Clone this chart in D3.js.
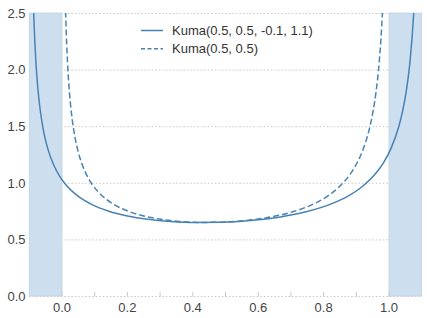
<!DOCTYPE html>
<html><head><meta charset="utf-8">
<script src="https://cdn.jsdelivr.net/npm/d3@7"></script>
<style>body{margin:0;background:#fff}svg{display:block}</style>
</head><body><svg id="c" width="427" height="318"></svg>
<script>
const xDashed=[0.0081,0.01,0.0121,0.0144,0.0169,0.0196,0.0256,0.0324,0.04,0.0484,0.0625,0.0784,0.09,0.1225,0.16,0.2025,0.25,0.3025,0.36,0.4225,0.49,0.5625,0.64,0.7056,0.7744,0.81,0.8464,0.8836,0.9025,0.9216,0.9409,0.950625,0.9604,0.970225,0.9801,0.984064];
const yDashed=[2.9119,2.6353,2.4091,2.2208,2.0617,1.9256,1.7048,1.5338,1.3975,1.2867,1.1547,1.0522,0.99602,0.88596,0.80687,0.74911,0.70711,0.6776,0.65881,0.65012,0.65205,0.66667,0.69877,0.74405,0.8201,0.87841,0.96075,1.08576,1.17688,1.30208,1.48801,1.62169,1.80384,2.07235,2.52525,2.81763];
const xSolid=[-0.09028,-0.088,-0.08548,-0.08272,-0.07972,-0.07648,-0.06928,-0.06112,-0.052,-0.04192,-0.025,-0.00592,0.008,0.047,0.092,0.143,0.2,0.263,0.332,0.407,0.488,0.575,0.668,0.74672,0.82928,0.872,0.91568,0.96032,0.983,1.00592,1.02908,1.04075,1.05248,1.06427,1.07612,1.08088];
const ySolid=[2.9119,2.6353,2.4091,2.2208,2.0617,1.9256,1.7048,1.5338,1.3975,1.2867,1.1547,1.0522,0.99602,0.88596,0.80687,0.74911,0.70711,0.6776,0.65881,0.65012,0.65205,0.66667,0.69877,0.74405,0.8201,0.87841,0.96075,1.08576,1.17688,1.30208,1.48801,1.62169,1.80384,2.07235,2.52525,2.81763];
const shadeRanges=[[-0.1,0.0],[1.0,1.1]];
const xTickLabels=[0.0,0.2,0.4,0.6,0.8,1.0];
const xMinorTicks=[0.0,0.1,0.2,0.3,0.4,0.5,0.6,0.7,0.8,0.9,1.0];
const yTickLabels=[0.0,0.5,1.0,1.5,2.0,2.5];
const seriesNames=["Kuma(0.5, 0.5, -0.1, 1.1)","Kuma(0.5, 0.5)"];

const svg=d3.select("#c");
const L=29.3,R=421.7,T=13,B=296;
const x=d3.scaleLinear().domain([-0.1,1.1]).range([L,R]);
const y=d3.scaleLinear().domain([0,2.5]).range([B,T]);
const col="#4682b4";
const font="'Liberation Sans', Arial, sans-serif";

svg.append("defs").append("clipPath").attr("id","clip").append("rect")
  .attr("x",L).attr("y",T).attr("width",R-L).attr("height",B-T);

// grid
svg.append("g").selectAll("line").data(yTickLabels).join("line")
  .attr("x1",L).attr("x2",R).attr("y1",d=>y(d)+0.5).attr("y2",d=>y(d)+0.5)
  .attr("stroke","#c8c8c8").attr("stroke-width",1).attr("stroke-dasharray","1.5,2");

// shading
svg.append("g").selectAll("rect").data(shadeRanges).join("rect")
  .attr("x",d=>x(d[0])).attr("width",d=>x(d[1])-x(d[0]))
  .attr("y",y(2.5)).attr("height",y(0)-y(2.5))
  .attr("fill","#cddfee").attr("stroke","#bcd3e7").attr("stroke-width",0.8);

// x ticks
svg.append("g").selectAll("line").data(xMinorTicks).join("line")
  .attr("x1",d=>x(d)).attr("x2",d=>x(d)).attr("y1",B-4).attr("y2",B+0.5)
  .attr("stroke","#c8c8c8").attr("stroke-width",1);

// axis labels
svg.append("g").selectAll("text").data(xTickLabels).join("text")
  .attr("x",d=>x(d)).attr("y",B+15.5).attr("text-anchor","middle")
  .attr("font-family",font).attr("font-size",13).attr("fill","#444")
  .text(d=>d3.format(".1f")(d));
svg.append("g").selectAll("text").data(yTickLabels).join("text")
  .attr("x",25.5).attr("y",d=>y(d)+4.7).attr("text-anchor","end")
  .attr("font-family",font).attr("font-size",13).attr("fill","#444")
  .text(d=>d3.format(".1f")(d));

// curves
const line=d3.line().x(d=>x(d[0])).y(d=>y(d[1])).curve(d3.curveMonotoneX);
const g=svg.append("g").attr("clip-path","url(#clip)");
g.append("path").datum(d3.zip(xSolid,ySolid)).attr("d",line)
  .attr("fill","none").attr("stroke",col).attr("stroke-width",1.5);
g.append("path").datum(d3.zip(xDashed,yDashed)).attr("d",line)
  .attr("fill","none").attr("stroke",col).attr("stroke-width",1.5).attr("stroke-dasharray","6,3");

// legend
const lg=svg.append("g");
seriesNames.forEach((n,i)=>{
  const yy=30.5+i*18.3;
  lg.append("line").attr("x1",141).attr("x2",163).attr("y1",yy).attr("y2",yy)
    .attr("stroke",col).attr("stroke-width",1.5).attr("stroke-dasharray",i?"4,2.5":null);
  lg.append("text").attr("x",172).attr("y",yy+4.6).attr("font-family",font)
    .attr("font-size",13).attr("fill","#333").text(n);
});
</script></body></html>
